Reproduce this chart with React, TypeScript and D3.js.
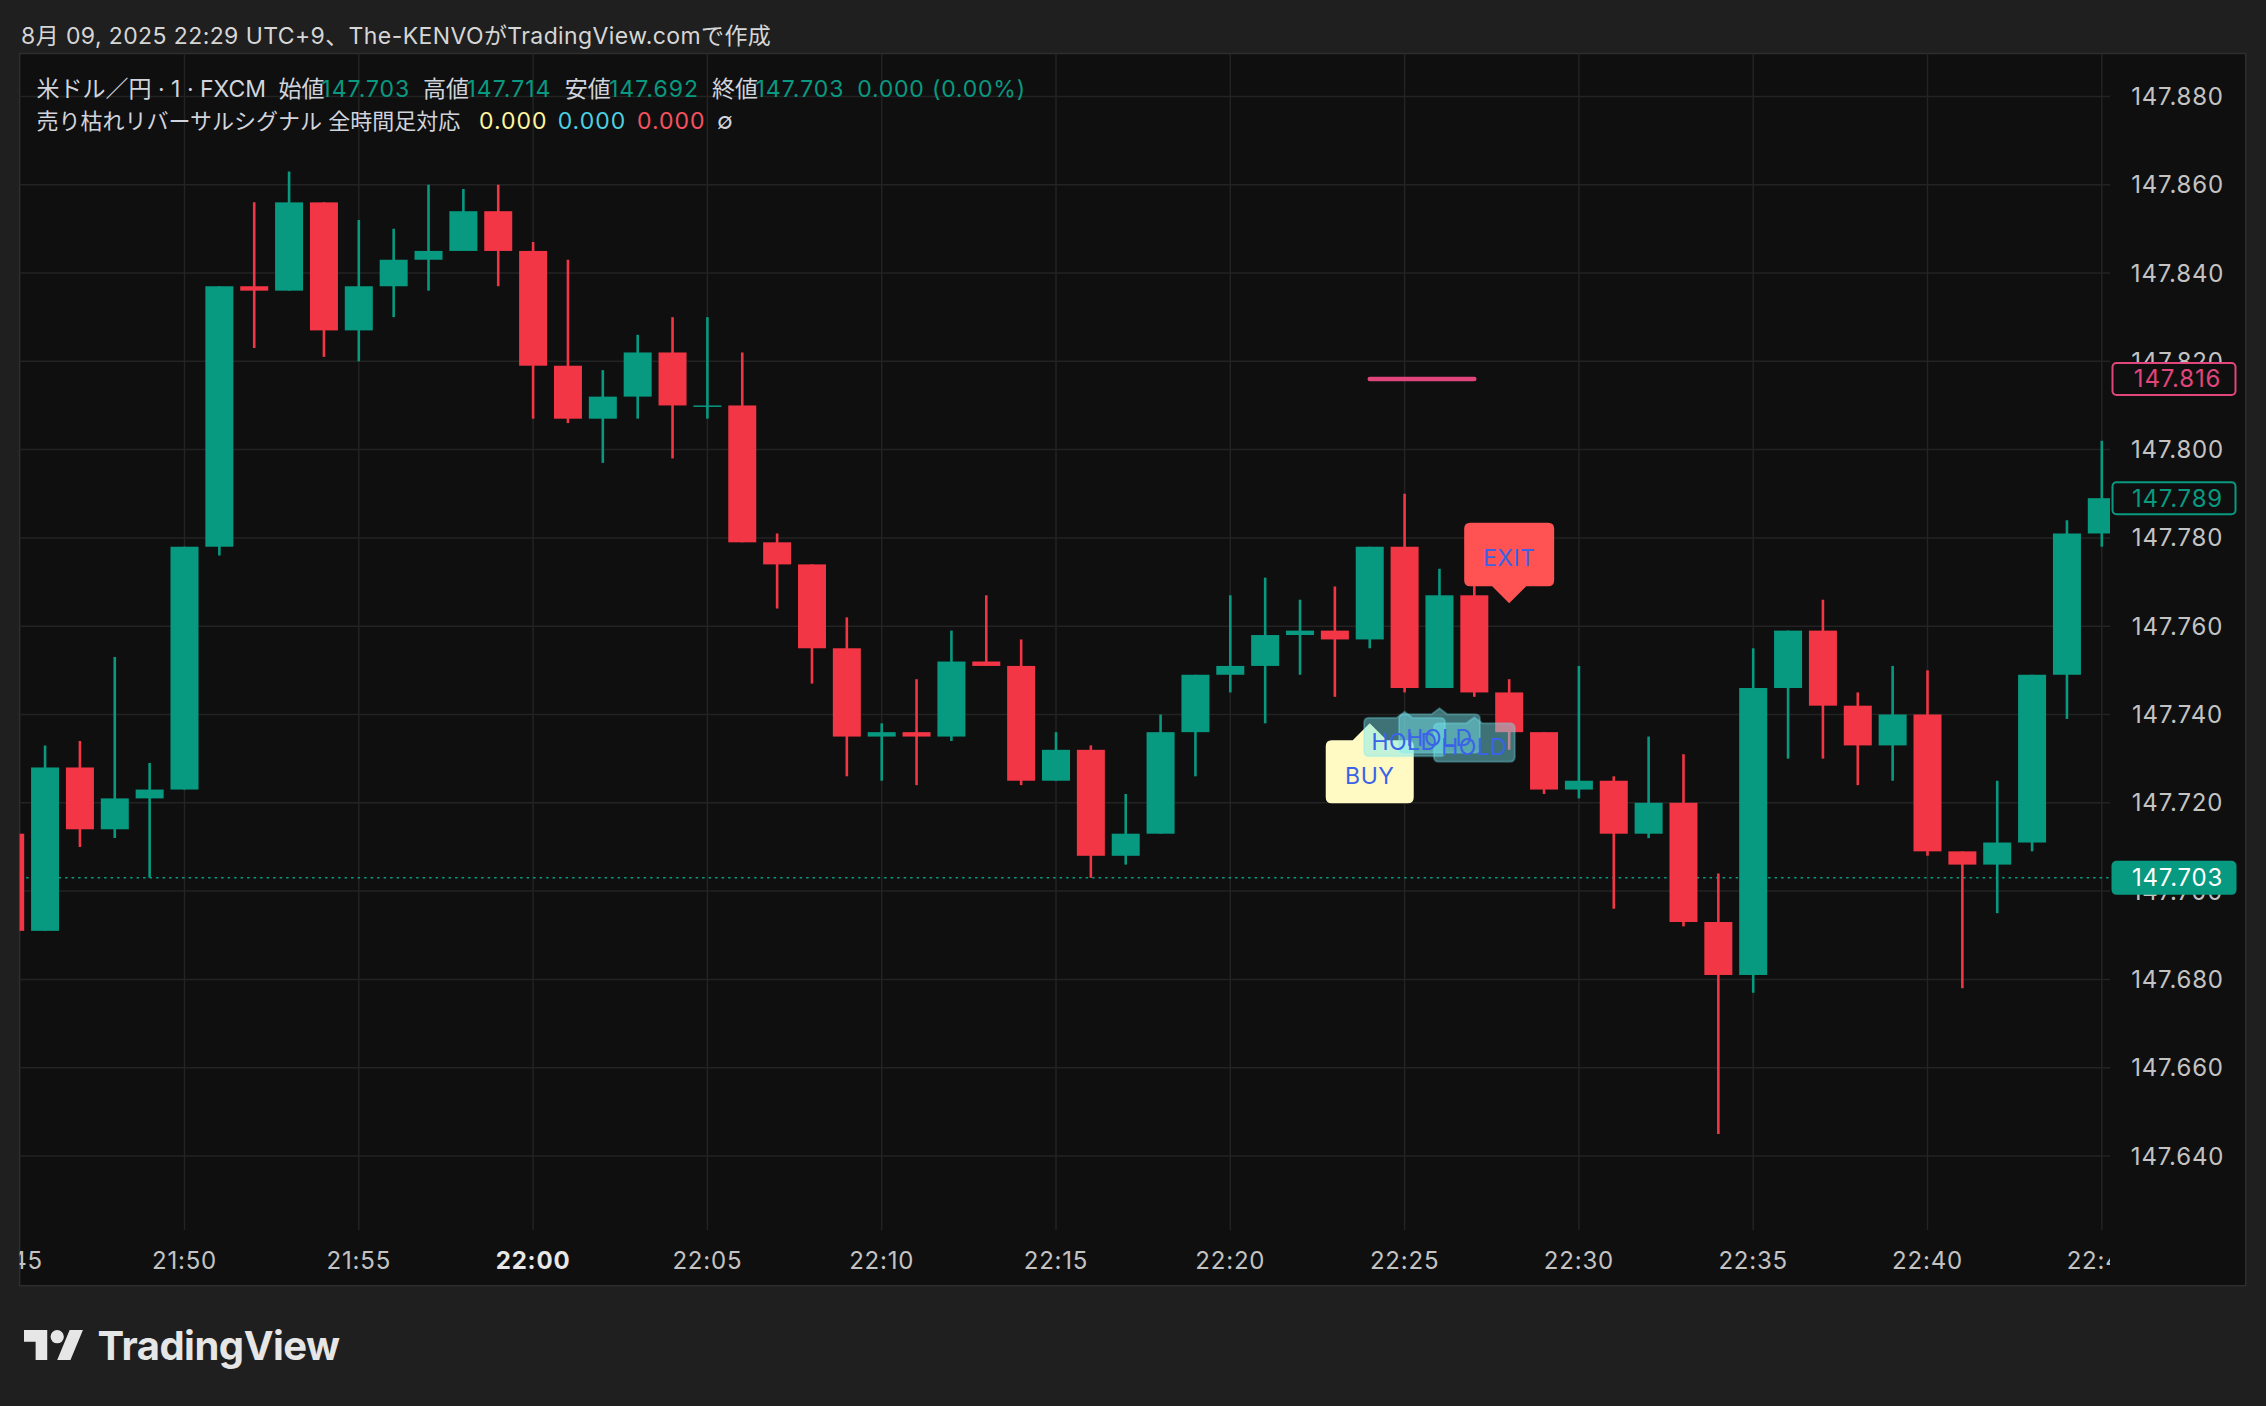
import React from "react";
import * as d3 from "d3";

// ---------- DATA ----------
const times = ["21:45","21:46","21:47","21:48","21:49","21:50","21:51","21:52","21:53","21:54","21:55","21:56","21:57","21:58","21:59","22:00","22:01","22:02","22:03","22:04","22:05","22:06","22:07","22:08","22:09","22:10","22:11","22:12","22:13","22:14","22:15","22:16","22:17","22:18","22:19","22:20","22:21","22:22","22:23","22:24","22:25","22:26","22:27","22:28","22:29","22:30","22:31","22:32","22:33","22:34","22:35","22:36","22:37","22:38","22:39","22:40","22:41","22:42","22:43","22:44","22:45"];
const opens = [147.713,147.691,147.728,147.714,147.721,147.723,147.778,147.837,147.836,147.856,147.827,147.837,147.843,147.845,147.854,147.845,147.819,147.807,147.812,147.822,147.810,147.810,147.779,147.774,147.755,147.735,147.736,147.735,147.752,147.751,147.725,147.732,147.708,147.713,147.736,147.749,147.751,147.758,147.759,147.757,147.778,147.746,147.767,147.745,147.736,147.723,147.725,147.713,147.720,147.693,147.681,147.746,147.759,147.742,147.733,147.740,147.709,147.706,147.711,147.749,147.781];
const highs = [147.714,147.733,147.734,147.753,147.729,147.778,147.837,147.856,147.863,147.856,147.852,147.850,147.860,147.859,147.860,147.847,147.843,147.818,147.826,147.830,147.830,147.822,147.781,147.774,147.762,147.738,147.748,147.759,147.767,147.757,147.736,147.733,147.722,147.740,147.749,147.767,147.771,147.766,147.769,147.778,147.790,147.773,147.772,147.748,147.736,147.751,147.726,147.735,147.731,147.704,147.755,147.759,147.766,147.745,147.751,147.750,147.709,147.725,147.749,147.784,147.802];
const lows = [147.690,147.691,147.710,147.712,147.703,147.723,147.776,147.823,147.836,147.821,147.820,147.830,147.836,147.845,147.837,147.807,147.806,147.797,147.807,147.798,147.807,147.779,147.764,147.747,147.726,147.725,147.724,147.734,147.751,147.724,147.725,147.703,147.706,147.713,147.726,147.745,147.738,147.749,147.744,147.755,147.745,147.746,147.744,147.732,147.722,147.721,147.696,147.712,147.692,147.645,147.677,147.730,147.730,147.724,147.725,147.708,147.678,147.695,147.709,147.739,147.778];
const closes = [147.691,147.728,147.714,147.721,147.723,147.778,147.837,147.836,147.856,147.827,147.837,147.843,147.845,147.854,147.845,147.819,147.807,147.812,147.822,147.810,147.810,147.779,147.774,147.755,147.735,147.736,147.735,147.752,147.751,147.725,147.732,147.708,147.713,147.736,147.749,147.751,147.758,147.759,147.757,147.778,147.746,147.767,147.745,147.736,147.723,147.725,147.713,147.720,147.693,147.681,147.746,147.759,147.742,147.733,147.740,147.709,147.706,147.711,147.749,147.781,147.789];

const signalTimes = ["22:25","22:26","22:27","22:24","22:28"];
const signalTexts = ["HOLD","HOLD","HOLD","BUY","EXIT"];
const signalPrices = [147.7406,147.7414,147.7394,147.738,147.7652];

const levelPrice = 147.816;
const levelStart = "22:24";
const levelEnd = "22:27";
const lastPrice = 147.703;
const secondPrice = 147.789;

const headerText = "8月 09, 2025 22:29 UTC+9、The-KENVOがTradingView.comで作成";
const symbolText = "米ドル／円 · 1 · FXCM";
const ohlcLabels = ["始値","高値","安値","終値"];
const ohlcValues = ["147.703","147.714","147.692","147.703"];
const changeText = "0.000 (0.00%)";
const indicatorName = "売り枯れリバーサルシグナル 全時間足対応";
const indicatorValues = ["0.000","0.000","0.000"];

// ---------- STYLE ----------
const UP = "#089981";
const DOWN = "#f23645";
const PINK = "#e0457b";
const BG_OUT = "#1f1f1f";
const BG = "#0f0f0f";
const GRID = "#232323";
const AXIS_TXT = "#c3c3c3";
const FONT = "Inter, 'Noto Sans CJK JP', 'Noto Sans', sans-serif";

const parseT = (s: string) => {
  const [h, m] = s.split(":").map(Number);
  return new Date(2025, 7, 9, h, m);
};

const PL = 19.6, PR = 2110, PT = 53.5, PB = 1230, OUTR = 2245.7, OUTB = 1285.7;

function labelPath(cx: number, tipY: number, w: number, h: number, pw: number, ph: number, r: number, up: boolean) {
  const x0 = cx - w / 2, x1 = cx + w / 2;
  if (up) {
    const top = tipY + ph, bot = top + h;
    return `M${x0 + r},${top} L${cx - pw / 2},${top} L${cx},${tipY} L${cx + pw / 2},${top} L${x1 - r},${top} Q${x1},${top} ${x1},${top + r} L${x1},${bot - r} Q${x1},${bot} ${x1 - r},${bot} L${x0 + r},${bot} Q${x0},${bot} ${x0},${bot - r} L${x0},${top + r} Q${x0},${top} ${x0 + r},${top} Z`;
  }
  const bot = tipY - ph, top = bot - h;
  return `M${x0 + r},${top} L${x1 - r},${top} Q${x1},${top} ${x1},${top + r} L${x1},${bot - r} Q${x1},${bot} ${x1 - r},${bot} L${cx + pw / 2},${bot} L${cx},${tipY} L${cx - pw / 2},${bot} L${x0 + r},${bot} Q${x0},${bot} ${x0},${bot - r} L${x0},${top + r} Q${x0},${top} ${x0 + r},${top} Z`;
}

export default function App() {
  const x = d3.scaleTime().domain([parseT("21:45"), parseT("22:45")]).range([10.2, 2101.8]);
  const y = d3.scaleLinear().domain([147.64, 147.88]).range([1156, 96.4]);
  const xTicks = x.ticks(d3.timeMinute.every(5) as any);
  const yTicks = y.ticks(12);
  const fmtT = d3.timeFormat("%H:%M");
  const fmtP = d3.format(".3f");
  const bw = 28;

  const candles = times.map((t, i) => ({ t: parseT(t), o: opens[i], h: highs[i], l: lows[i], c: closes[i] }));

  const signals = signalTimes.map((t, i) => ({ t: parseT(t), text: signalTexts[i], p: signalPrices[i] }));
  const holds = signals.filter((s) => s.text === "HOLD");
  const others = signals.filter((s) => s.text !== "HOLD");

  const axisLabel = (p: number, stroke: string, fill: string, txt: string) => (
    <g key={"al" + p}>
      <rect x={2112.5} y={y(p) - 16} width={123} height={32} rx={4} fill={fill} stroke={stroke} strokeWidth={2} />
      <text x={2177.5} y={y(p)} fill={txt} fontSize={24} letterSpacing={0.8} fontFamily={FONT} textAnchor="middle" dominantBaseline="central">{fmtP(p)}</text>
    </g>
  );

  return (
    <svg width={2266} height={1406} style={{ position: "fixed", left: 0, top: 0, background: BG_OUT }}>
      <defs>
        <clipPath id="plot"><rect x={PL} y={PT} width={PR - PL} height={PB - PT} /></clipPath>
        <clipPath id="taxis"><rect x={PL} y={PB} width={PR - PL} height={OUTB - PB} /></clipPath>
      </defs>
      <rect x={0} y={0} width={2266} height={1406} fill={BG_OUT} />
      {/* header */}
      <text x={21} y={44} fill="#d6d6d6" fontSize={23} letterSpacing={0.4} fontFamily={FONT}>{headerText}</text>
      {/* pane */}
      <rect x={PL} y={PT} width={OUTR - PL} height={OUTB - PT} fill={BG} stroke="#2e2e2e" strokeWidth={1.5} />
      {/* grid */}
      <g>
        {yTicks.map((p) => (
          <line key={"gy" + p} x1={PL} x2={PR} y1={y(p)} y2={y(p)} stroke={GRID} strokeWidth={1.5} />
        ))}
        {xTicks.map((t) => (
          <line key={"gx" + t.getTime()} x1={x(t)} x2={x(t)} y1={PT} y2={PB} stroke={GRID} strokeWidth={1.5} clipPath="url(#plot)" />
        ))}
      </g>
      {/* legend */}
      <g fontFamily={FONT} fontSize={23} dominantBaseline="central">
        <text x={36.5} y={89} fill="#d1d4dc">{symbolText}</text>
        {ohlcLabels.map((l, i) => (
          <text key={"ol" + i} x={[278.5, 423, 564.7, 712][i]} y={89} fill="#d1d4dc">{l}</text>
        ))}
        {ohlcValues.map((v, i) => (
          <text key={"ov" + i} x={[321.3, 466.5, 609, 755.5][i]} y={89} fill={UP} letterSpacing={1}>{v}</text>
        ))}
        <text x={857.2} y={89} fill={UP} letterSpacing={0.8}>{changeText}</text>
        <text x={36.5} y={121} fill="#d1d4dc" fontSize={22}>{indicatorName}</text>
        {indicatorValues.map((v, i) => (
          <text key={"iv" + i} x={[479, 557.7, 637][i]} y={121} fill={["#fff59d", "#4dd0e1", "#f7525f"][i]} letterSpacing={1}>{v}</text>
        ))}
        <text x={717} y={121} fill="#d1d4dc">∅</text>
      </g>
      {/* candles */}
      <g clipPath="url(#plot)">
        <line x1={PL} x2={PR} y1={y(lastPrice)} y2={y(lastPrice)} stroke={UP} strokeWidth={1.5} strokeDasharray="2.5 4" />
        {candles.map((d, i) => {
          const col = d.c >= d.o ? UP : DOWN;
          const cx = x(d.t);
          const top = Math.min(y(d.o), y(d.c));
          const hgt = Math.max(1.5, Math.abs(y(d.o) - y(d.c)));
          return (
            <g key={"c" + i}>
              <line x1={cx} x2={cx} y1={y(d.h)} y2={y(d.l)} stroke={col} strokeWidth={2.6} />
              <rect x={cx - bw / 2} y={top} width={bw} height={hgt} fill={col} />
            </g>
          );
        })}
        {/* level line */}
        <line x1={x(parseT(levelStart))} x2={x(parseT(levelEnd))} y1={y(levelPrice)} y2={y(levelPrice)} stroke={PINK} strokeWidth={4.5} strokeLinecap="round" />
        {/* signal labels */}
        {others.filter((s) => s.text === "BUY").map((s, i) => (
          <path key={"b" + i} d={labelPath(x(s.t), y(s.p), 88, 63, 34, 17, 6, true)} fill="#fff9c4" />
        ))}
        {holds.map((s, i) => (
          <path key={"h" + i} d={labelPath(x(s.t), y(s.p), 81, 38.5, 16, 6, 5, true)} fill="rgba(120,235,245,0.45)" stroke="rgba(120,235,245,0.3)" strokeWidth={2} />
        ))}
        {others.filter((s) => s.text === "EXIT").map((s, i) => (
          <path key={"e" + i} d={labelPath(x(s.t), y(s.p), 90, 63.5, 34, 17, 6, false)} fill="#ff5252" />
        ))}
        <g fontFamily={FONT} fontSize={23} fill="#3a63e8" textAnchor="middle" dominantBaseline="central" letterSpacing={0.5}>
          {holds.map((s, i) => (
            <text key={"ht" + i} x={x(s.t)} y={y(s.p) + 6 + 19 + 5}>{s.text}</text>
          ))}
          {others.map((s, i) => (
            <text key={"ot" + i} x={x(s.t)} y={s.text === "BUY" ? y(s.p) + 17 + 31.5 + 4 : y(s.p) - 17 - 31.75 + 4}>{s.text}</text>
          ))}
        </g>
      </g>
      {/* price axis */}
      <g fontFamily={FONT} fontSize={24} fill={AXIS_TXT} letterSpacing={0.8}>
        {yTicks.map((p) => (
          <text key={"yt" + p} x={2177.5} y={y(p)} textAnchor="middle" dominantBaseline="central">{fmtP(p)}</text>
        ))}
      </g>
      {axisLabel(levelPrice, PINK, BG, PINK)}
      {axisLabel(secondPrice, UP, BG, UP)}
      {axisLabel(lastPrice, UP, UP, "#ffffff")}
      {/* time axis */}
      <g clipPath="url(#taxis)" fontFamily={FONT} fontSize={24} letterSpacing={0.8}>
        {xTicks.map((t) => {
          const bold = t.getMinutes() === 0;
          return (
            <text key={"xt" + t.getTime()} x={x(t)} y={1260} textAnchor="middle" dominantBaseline="central"
              fill={bold ? "#e8e8e8" : AXIS_TXT} fontWeight={bold ? 700 : 400}>{fmtT(t)}</text>
          );
        })}
      </g>
      {/* logo */}
      <g transform="translate(24,1323.4) scale(1.66)" fill="#e6e6e6">
        <path d="M14 22H7V11H0V4h14v18zM28 22h-8l7.5-18h8L28 22z" />
        <circle cx={20} cy={8} r={4} />
      </g>
      <text x={97.5} y={1360} fill="#e6e6e6" fontFamily={FONT} fontSize={40} fontWeight={700} letterSpacing={-0.5}>TradingView</text>
    </svg>
  );
}
